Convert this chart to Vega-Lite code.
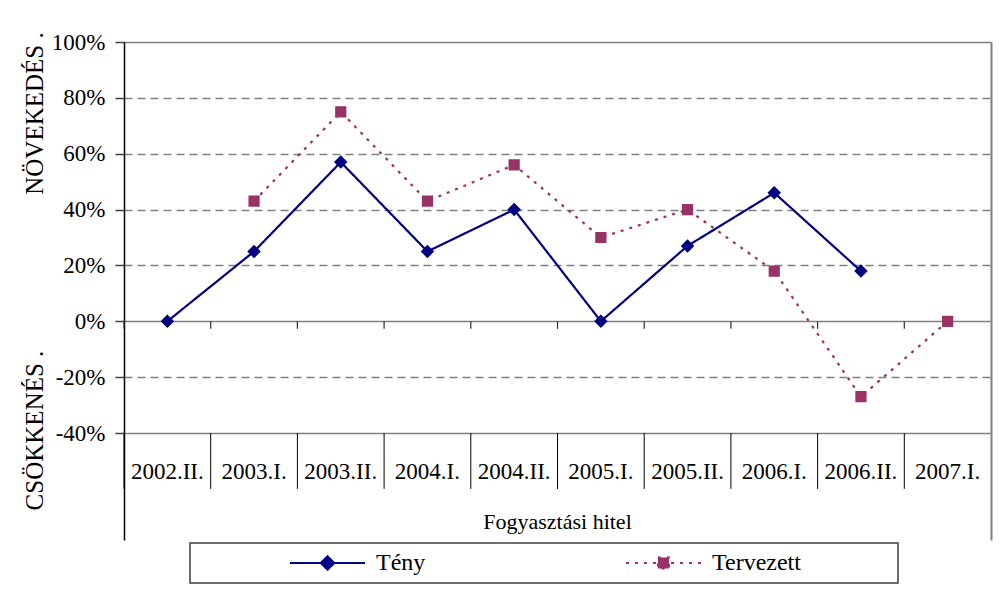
{
  "$schema": "https://vega.github.io/schema/vega-lite/v6.json",
  "width": 867,
  "height": 498,
  "autosize": "none",
  "padding": {"left": 124, "top": 42, "right": 8, "bottom": 49},
  "background": "#ffffff",
  "datasets": {
    "growth": [
      {"series": "Tény", "period": "2002.II.", "value": 0},
      {"series": "Tény", "period": "2003.I.", "value": 25},
      {"series": "Tény", "period": "2003.II.", "value": 57},
      {"series": "Tény", "period": "2004.I.", "value": 25},
      {"series": "Tény", "period": "2004.II.", "value": 40},
      {"series": "Tény", "period": "2005.I.", "value": 0},
      {"series": "Tény", "period": "2005.II.", "value": 27},
      {"series": "Tény", "period": "2006.I.", "value": 46},
      {"series": "Tény", "period": "2006.II.", "value": 18},
      {"series": "Tervezett", "period": "2003.I.", "value": 43},
      {"series": "Tervezett", "period": "2003.II.", "value": 75},
      {"series": "Tervezett", "period": "2004.I.", "value": 43},
      {"series": "Tervezett", "period": "2004.II.", "value": 56},
      {"series": "Tervezett", "period": "2005.I.", "value": 30},
      {"series": "Tervezett", "period": "2005.II.", "value": 40},
      {"series": "Tervezett", "period": "2006.I.", "value": 18},
      {"series": "Tervezett", "period": "2006.II.", "value": -27},
      {"series": "Tervezett", "period": "2007.I.", "value": 0}
    ],
    "periods": [
      {"period": "2002.II."}, {"period": "2003.I."}, {"period": "2003.II."},
      {"period": "2004.I."}, {"period": "2004.II."}, {"period": "2005.I."},
      {"period": "2005.II."}, {"period": "2006.I."}, {"period": "2006.II."},
      {"period": "2007.I."}
    ],
    "caption": [{"text": "Fogyasztási hitel"}]
  },
  "resolve": {"axis": {"y": "independent"}},
  "layer": [
    {
      "data": {"name": "periods"},
      "mark": {"type": "rule", "color": "#303030", "strokeWidth": 1.2},
      "encoding": {
        "x": {
          "field": "period", "type": "ordinal", "bandPosition": 0, "axis": null,
          "scale": {"type": "band", "paddingInner": 0, "paddingOuter": 0,
            "domain": ["2002.II.", "2003.I.", "2003.II.", "2004.I.", "2004.II.", "2005.I.", "2005.II.", "2006.I.", "2006.II.", "2007.I."]}
        },
        "y": {
          "datum": 0,
          "scale": {"domain": [-78.3, 100], "nice": false, "zero": false},
          "axis": {"orient": "right", "domain": true, "domainColor": "#808080", "domainWidth": 2,
            "labels": false, "ticks": false, "grid": false, "title": null}
        },
        "y2": {"datum": -2.7}
      }
    },
    {
      "data": {"name": "periods"},
      "mark": {"type": "rule", "color": "#000000", "strokeWidth": 1},
      "encoding": {
        "x": {"field": "period", "type": "ordinal", "bandPosition": 0, "axis": null},
        "y": {
          "datum": -40,
          "axis": {"orient": "left", "domain": false, "labels": false, "ticks": false, "grid": false,
            "title": "CSÖKKENÉS .", "titleAngle": 270, "titleX": -82, "titleY": 388,
            "titleAlign": "center", "titleBaseline": "alphabetic"}
        },
        "y2": {"datum": -60}
      }
    },
    {
      "data": {"name": "periods"},
      "mark": {"type": "text", "fontSize": 23, "color": "#000000", "baseline": "middle", "align": "center"},
      "encoding": {
        "x": {"field": "period", "type": "ordinal", "axis": null},
        "y": {"datum": -54, "axis": null},
        "text": {"field": "period"}
      }
    },
    {
      "data": {"name": "caption"},
      "mark": {"type": "text", "fontSize": 22, "color": "#000000", "baseline": "middle", "align": "center"},
      "encoding": {
        "y": {"datum": -72, "axis": null},
        "text": {"field": "text"}
      }
    },
    {
      "data": {"name": "growth"},
      "mark": {"type": "line", "strokeWidth": 2.2, "strokeCap": "butt"},
      "encoding": {
        "x": {"field": "period", "type": "ordinal", "axis": null},
        "y": {
          "field": "value", "type": "quantitative",
          "axis": {
            "orient": "left",
            "values": [-40, -20, 0, 20, 40, 60, 80, 100],
            "labelExpr": "datum.value + '%'",
            "labelFontSize": 23, "labelColor": "#000000", "labelPadding": 10,
            "tickSize": 9, "tickColor": "#404040", "tickWidth": 1.5,
            "domainColor": "#000000", "domainWidth": 1.5,
            "grid": true, "gridColor": "#808080", "gridWidth": 1.6,
            "gridDash": {"condition": {"test": "datum.value === 0 || datum.value === -40 || datum.value === 100", "value": []}, "value": [8, 5]},
            "title": "NÖVEKEDÉS .", "titleAngle": 270, "titleX": -82, "titleY": 71,
            "titleAlign": "center", "titleBaseline": "alphabetic"
          }
        },
        "color": {
          "field": "series", "type": "nominal",
          "legend": {"title": null, "orient": "none", "legendX": 66, "legendY": 501, "direction": "horizontal", "columns": 2},
          "scale": {"domain": ["Tény", "Tervezett"], "range": ["#000080", "#993366"]}
        },
        "strokeDash": {
          "field": "series", "type": "nominal", "legend": null,
          "scale": {"domain": ["Tény", "Tervezett"], "range": [[1, 0], [3, 6]]}
        }
      }
    },
    {
      "data": {"name": "growth"},
      "mark": {"type": "point", "filled": true, "opacity": 1, "size": 400},
      "encoding": {
        "x": {"field": "period", "type": "ordinal", "axis": null},
        "y": {"field": "value", "type": "quantitative", "axis": null},
        "fill": {
          "field": "series", "type": "nominal",
          "legend": {"title": null, "orient": "none", "legendX": 66, "legendY": 501, "direction": "horizontal", "columns": 2},
          "scale": {"domain": ["Tény", "Tervezett"], "range": ["#000080", "#993366"]}
        },
        "shape": {
          "field": "series", "type": "nominal",
          "legend": {"title": null, "orient": "none", "legendX": 66, "legendY": 501, "direction": "horizontal", "columns": 2},
          "scale": {"domain": ["Tény", "Tervezett"], "range": [
            "M-3.75,0H3.75M0,-0.675L0.675,0L0,0.675L-0.675,0Z",
            "M-3.75,0H3.75M-0.56,-0.56H0.56V0.56H-0.56ZM22.25,0"
          ]}
        }
      }
    }
  ],
  "config": {
    "view": {"stroke": null},
    "font": "Liberation Serif",
    "axis": {
      "labelFont": "Liberation Serif",
      "titleFont": "Liberation Serif",
      "titleFontSize": 25,
      "titleFontWeight": "normal",
      "titleColor": "#000000"
    },
    "legend": {
      "columnPadding": 108,
      "padding": 8,
      "strokeColor": "#404040",
      "strokeWidth": 1.5,
      "labelFont": "Liberation Serif",
      "labelFontSize": 24,
      "labelColor": "#000000",
      "labelOffset": 36.5,
      "symbolOffset": 117.5,
      "symbolSize": 400,
      "symbolStrokeWidth": 2,
      "symbolFillColor": "#000000"
    }
  }
}
